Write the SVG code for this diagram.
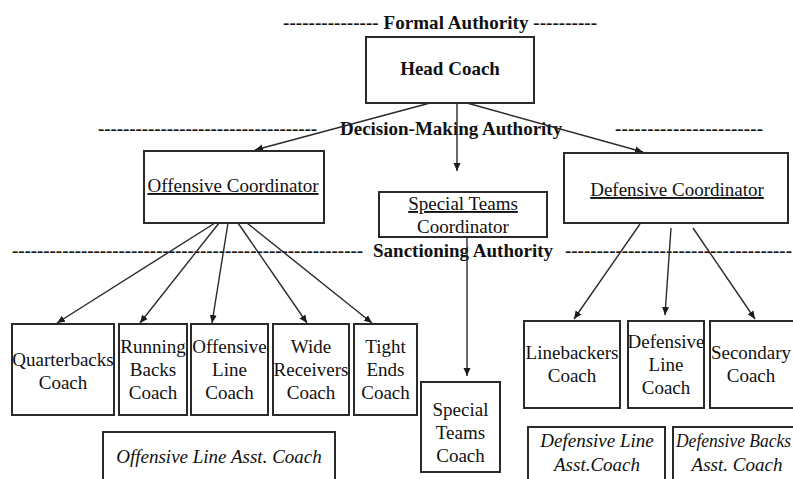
<svg xmlns="http://www.w3.org/2000/svg" width="793" height="479" viewBox="0 0 793 479">
  <defs>
    <marker id="arrow" markerUnits="userSpaceOnUse" markerWidth="9" markerHeight="8" refX="8" refY="4" orient="auto">
      <path d="M0,0.5 L8,4 L0,7.5 Z" fill="#1a1a1a"/>
    </marker>
  </defs>
  <rect width="793" height="479" fill="#fff"/>

  <!-- authority level headings -->
  <g id="levels" fill="#111">
    <text font-family="Liberation Serif" font-size="19" font-weight="bold" x="283" y="29" textLength="314">--------------- Formal Authority ----------</text>
    <text font-family="Liberation Serif" font-size="19" font-weight="bold" x="98" y="135" textLength="219">-----------------------------------</text>
    <text font-family="Liberation Serif" font-size="19" font-weight="bold" x="340" y="135">Decision-Making Authority</text>
    <text font-family="Liberation Serif" font-size="19" font-weight="bold" x="615" y="135" textLength="148">-----------------------</text>
    <text font-family="Liberation Serif" font-size="19" font-weight="bold" x="12" y="257" textLength="351">--------------------------------------------------------</text>
    <text font-family="Liberation Serif" font-size="19" font-weight="bold" x="373" y="257">Sanctioning Authority</text>
    <text font-family="Liberation Serif" font-size="19" font-weight="bold" x="565" y="257" textLength="227">------------------------------------</text>
  </g>

  <!-- connectors -->
  <g id="connectors" stroke="#2a2a2a" stroke-width="1.4" fill="none" marker-end="url(#arrow)">
    <line x1="430" y1="103" x2="255" y2="150"/>
    <line x1="457" y1="103" x2="457" y2="171"/>
    <line x1="467" y1="103" x2="643" y2="152"/>
    <line x1="215" y1="223" x2="57" y2="323"/>
    <line x1="219" y1="223" x2="140" y2="323"/>
    <line x1="228" y1="223" x2="212" y2="323"/>
    <line x1="238" y1="223" x2="307" y2="323"/>
    <line x1="247" y1="223" x2="372" y2="323"/>
    <line x1="467" y1="237" x2="467" y2="376"/>
    <line x1="640" y1="224" x2="574" y2="319"/>
    <line x1="671" y1="228" x2="665" y2="315"/>
    <line x1="693" y1="228" x2="755" y2="319"/>
  </g>

  <!-- nodes: boxes share stroke settings, labels share the serif face -->
  <g id="nodes" fill="#111">
  <g id="head-coach">
    <rect x="366" y="37" width="168" height="66" fill="#fff" stroke="#2a2a2a" stroke-width="2"/>
    <text font-family="Liberation Serif" font-size="19" font-weight="bold" text-anchor="middle" x="450" y="75">Head Coach</text>
  </g>

  <g id="offensive-coordinator">
    <rect x="144" y="151" width="180" height="72" fill="#fff" stroke="#2a2a2a" stroke-width="2"/>
    <text font-family="Liberation Serif" font-size="19" text-anchor="middle" text-decoration="underline" x="233" y="192">Offensive Coordinator</text>
  </g>

  <g id="special-teams-coordinator">
    <rect x="379" y="192" width="168" height="45" fill="#fff" stroke="#2a2a2a" stroke-width="2"/>
    <text font-family="Liberation Serif" font-size="19" text-anchor="middle" text-decoration="underline" x="463" y="210">Special Teams</text>
    <text font-family="Liberation Serif" font-size="19" text-anchor="middle" x="463" y="233">Coordinator</text>
  </g>

  <g id="defensive-coordinator">
    <rect x="564" y="153" width="224" height="70" fill="#fff" stroke="#2a2a2a" stroke-width="2"/>
    <text font-family="Liberation Serif" font-size="19" text-anchor="middle" text-decoration="underline" x="677" y="196">Defensive Coordinator</text>
  </g>

  <g id="quarterbacks-coach">
    <rect x="12" y="324" width="102" height="91" fill="#fff" stroke="#2a2a2a" stroke-width="2"/>
    <text font-family="Liberation Serif" font-size="19" text-anchor="middle" x="63" y="366">Quarterbacks</text>
    <text font-family="Liberation Serif" font-size="19" text-anchor="middle" x="63" y="389">Coach</text>
  </g>

  <g id="running-backs-coach">
    <rect x="119" y="324" width="68" height="91" fill="#fff" stroke="#2a2a2a" stroke-width="2"/>
    <text font-family="Liberation Serif" font-size="19" text-anchor="middle" x="153" y="353">Running</text>
    <text font-family="Liberation Serif" font-size="19" text-anchor="middle" x="153" y="376">Backs</text>
    <text font-family="Liberation Serif" font-size="19" text-anchor="middle" x="153" y="399">Coach</text>
  </g>

  <g id="offensive-line-coach">
    <rect x="191" y="324" width="77" height="91" fill="#fff" stroke="#2a2a2a" stroke-width="2"/>
    <text font-family="Liberation Serif" font-size="19" text-anchor="middle" x="229.5" y="353">Offensive</text>
    <text font-family="Liberation Serif" font-size="19" text-anchor="middle" x="229.5" y="376">Line</text>
    <text font-family="Liberation Serif" font-size="19" text-anchor="middle" x="229.5" y="399">Coach</text>
  </g>

  <g id="wide-receivers-coach">
    <rect x="273" y="324" width="76" height="91" fill="#fff" stroke="#2a2a2a" stroke-width="2"/>
    <text font-family="Liberation Serif" font-size="19" text-anchor="middle" x="311" y="353">Wide</text>
    <text font-family="Liberation Serif" font-size="19" text-anchor="middle" x="311" y="376">Receivers</text>
    <text font-family="Liberation Serif" font-size="19" text-anchor="middle" x="311" y="399">Coach</text>
  </g>

  <g id="tight-ends-coach">
    <rect x="354" y="324" width="63" height="91" fill="#fff" stroke="#2a2a2a" stroke-width="2"/>
    <text font-family="Liberation Serif" font-size="19" text-anchor="middle" x="385.5" y="353">Tight</text>
    <text font-family="Liberation Serif" font-size="19" text-anchor="middle" x="385.5" y="376">Ends</text>
    <text font-family="Liberation Serif" font-size="19" text-anchor="middle" x="385.5" y="399">Coach</text>
  </g>

  <g id="special-teams-coach">
    <rect x="421" y="382" width="79" height="90" fill="#fff" stroke="#2a2a2a" stroke-width="2"/>
    <text font-family="Liberation Serif" font-size="19" text-anchor="middle" x="460.5" y="416">Special</text>
    <text font-family="Liberation Serif" font-size="19" text-anchor="middle" x="460.5" y="439">Teams</text>
    <text font-family="Liberation Serif" font-size="19" text-anchor="middle" x="460.5" y="462">Coach</text>
  </g>

  <g id="linebackers-coach">
    <rect x="524" y="321" width="96" height="87" fill="#fff" stroke="#2a2a2a" stroke-width="2"/>
    <text font-family="Liberation Serif" font-size="19" text-anchor="middle" x="572" y="359">Linebackers</text>
    <text font-family="Liberation Serif" font-size="19" text-anchor="middle" x="572" y="382">Coach</text>
  </g>

  <g id="defensive-line-coach">
    <rect x="628" y="321" width="76" height="87" fill="#fff" stroke="#2a2a2a" stroke-width="2"/>
    <text font-family="Liberation Serif" font-size="19" text-anchor="middle" x="666" y="348">Defensive</text>
    <text font-family="Liberation Serif" font-size="19" text-anchor="middle" x="666" y="371">Line</text>
    <text font-family="Liberation Serif" font-size="19" text-anchor="middle" x="666" y="394">Coach</text>
  </g>

  <g id="secondary-coach">
    <rect x="710" y="321" width="100" height="87" fill="#fff" stroke="#2a2a2a" stroke-width="2"/>
    <text font-family="Liberation Serif" font-size="19" text-anchor="middle" x="751" y="359">Secondary</text>
    <text font-family="Liberation Serif" font-size="19" text-anchor="middle" x="751" y="382">Coach</text>
  </g>

  <g id="offensive-line-asst-coach">
    <rect x="103" y="432" width="232" height="60" fill="#fff" stroke="#2a2a2a" stroke-width="2"/>
    <text font-family="Liberation Serif" font-size="19" font-style="italic" text-anchor="middle" x="219" y="463">Offensive Line Asst. Coach</text>
  </g>

  <g id="defensive-line-asst-coach">
    <rect x="528" y="427" width="137" height="65" fill="#fff" stroke="#2a2a2a" stroke-width="2"/>
    <text font-family="Liberation Serif" font-size="19" font-style="italic" text-anchor="middle" x="597" y="447">Defensive Line</text>
    <text font-family="Liberation Serif" font-size="19" font-style="italic" text-anchor="middle" x="597" y="471">Asst.Coach</text>
  </g>

  <g id="defensive-backs-asst-coach">
    <rect x="673" y="427" width="140" height="65" fill="#fff" stroke="#2a2a2a" stroke-width="2"/>
    <text font-family="Liberation Serif" font-size="19" font-style="italic" x="676" y="447" textLength="115" lengthAdjust="spacingAndGlyphs">Defensive Backs</text>
    <text font-family="Liberation Serif" font-size="19" font-style="italic" text-anchor="middle" x="737" y="471">Asst. Coach</text>
  </g>
  </g>
</svg>
